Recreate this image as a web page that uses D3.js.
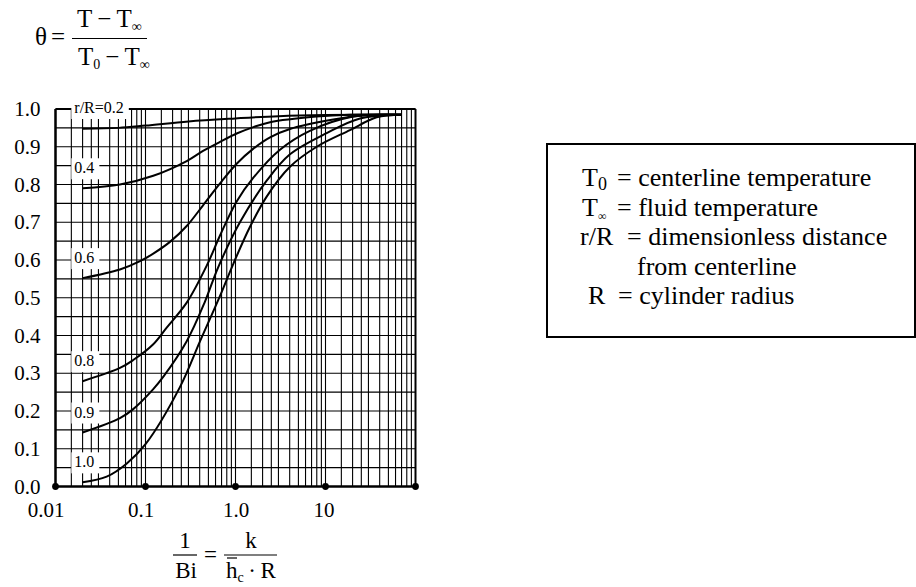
<!DOCTYPE html>
<html>
<head>
<meta charset="utf-8">
<script src="https://cdn.jsdelivr.net/npm/d3@7"></script>
<style>
  body { margin: 0; background: #fff; }
  svg { display: block; }
  text { font-family: "Liberation Serif", "Times New Roman", serif; fill: #000; }
  .grid line { stroke: #000; stroke-width: 1.1; }
  .frame { stroke: #000; }
  .curve { fill: none; stroke: #000; stroke-width: 2; }
  .lbl { font-size: 16px; }
</style>
</head>
<body>
<svg id="chart" width="916" height="587"></svg>
<script>
  // r/R label for each curve
  const radii = ['r/R=0.2', '0.4', '0.6', '0.8', '0.9', '1.0'];

  // [1/Bi, theta]
  const curve02 = [[0.02, 0.948], [0.05, 0.950], [0.1, 0.956], [0.3, 0.967], [1, 0.975],
    [3, 0.981], [10, 0.984], [70, 0.985]];
  const curve04 = [[0.02, 0.790], [0.052, 0.800], [0.122, 0.823], [0.287, 0.862], [0.436, 0.889],
    [0.673, 0.913], [1.03, 0.935], [1.58, 0.952], [2.42, 0.965], [7.9, 0.980], [18.7, 0.985],
    [70, 0.985]];
  const curve06 = [[0.02, 0.552], [0.052, 0.575], [0.087, 0.597], [0.122, 0.617], [0.187, 0.648],
    [0.287, 0.690], [0.436, 0.745], [0.673, 0.803], [1.03, 0.855], [1.58, 0.895], [2.42, 0.925],
    [4.03, 0.947], [12.2, 0.972], [28.7, 0.984], [70, 0.985]];
  const curve08 = [[0.02, 0.279], [0.052, 0.314], [0.073, 0.335], [0.122, 0.377], [0.172, 0.421],
    [0.287, 0.487], [0.479, 0.585], [0.673, 0.665], [1.03, 0.755], [1.58, 0.818], [3.12, 0.892],
    [6.7, 0.942], [18.7, 0.978], [70, 0.985]];
  const curve09 = [[0.02, 0.143], [0.052, 0.181], [0.073, 0.205], [0.122, 0.258], [0.158, 0.291],
    [0.287, 0.385], [0.458, 0.490], [0.64, 0.580], [1.12, 0.700], [2.22, 0.810], [4.03, 0.880],
    [10.3, 0.936], [24.2, 0.975], [70, 0.985]];
  const curve10 = [[0.02, 0.011], [0.037, 0.026], [0.062, 0.061], [0.1, 0.112], [0.242, 0.264],
    [0.404, 0.385], [0.673, 0.505], [0.946, 0.590], [1.45, 0.688], [2.22, 0.768], [4.03, 0.847],
    [8, 0.900], [18.7, 0.944], [37, 0.978], [70, 0.985]];
  const curves = [curve02, curve04, curve06, curve08, curve09, curve10];

  const yTicks = [0, 0.1, 0.2, 0.3, 0.4, 0.5, 0.6, 0.7, 0.8, 0.9, 1.0];
  const xTicks = [0.01, 0.1, 1, 10];
  const xTickLabels = ['0.01', '0.1', '1.0', '10'];
  const dotValues = [0.01, 0.1, 1, 10, 100];

  const legendSymbols = ['T', 'T', 'r/R', '', 'R'];
  const legendSubs = ['0', '\u221e', '', '', ''];
  const legendTexts = ['= centerline temperature', '= fluid temperature',
    '= dimensionless distance', 'from centerline', '= cylinder radius'];

  const svg = d3.select('#chart');

  const x = d3.scaleLog().domain([0.01, 100]).range([55.5, 415.5]);
  const y = d3.scaleLinear().domain([0, 1]).range([486.5, 109]);

  // graph paper: 1, 1.5, 2, 2.5, 3 ... 9 in every decade
  const mult = [1, 1.5, 2, 2.5, 3, 4, 5, 6, 7, 8, 9];
  const gridX = [];
  [0.01, 0.1, 1, 10].forEach(function(d) {
    mult.forEach(function(m) { gridX.push(d * m); });
  });
  const gridY = d3.range(0, 21).map(function(i) { return i * 0.05; });

  const grid = svg.append('g').attr('class', 'grid');
  grid.selectAll('line.gx').data(gridX).join('line')
    .attr('class', 'gx')
    .attr('x1', function(d) { return x(d); })
    .attr('x2', function(d) { return x(d); })
    .attr('y1', y(0))
    .attr('y2', y(1));
  grid.selectAll('line.gy').data(gridY).join('line')
    .attr('class', 'gy')
    .attr('x1', x(0.01))
    .attr('x2', x(100))
    .attr('y1', function(d) { return y(d); })
    .attr('y2', function(d) { return y(d); });

  // frame
  const frame = svg.append('g').attr('class', 'frame');
  frame.append('line').attr('x1', x(0.01)).attr('x2', x(0.01)).attr('y1', y(1)).attr('y2', y(0))
    .attr('stroke-width', 2.5);
  frame.append('line').attr('x1', x(0.01)).attr('x2', x(100)).attr('y1', y(0)).attr('y2', y(0))
    .attr('stroke-width', 2.5);
  frame.append('line').attr('x1', x(0.01)).attr('x2', x(100)).attr('y1', y(1)).attr('y2', y(1))
    .attr('stroke-width', 2);
  frame.append('line').attr('x1', x(100)).attr('x2', x(100)).attr('y1', y(1)).attr('y2', y(0))
    .attr('stroke-width', 2);

  // curve labels on white patches
  const labels = svg.append('g');
  radii.forEach(function(r, i) {
    const ly = i === 0 ? y(1) + 4 : y(curves[i][0][1]) - 15;
    const g = labels.append('g');
    const t = g.append('text')
      .attr('class', 'lbl')
      .attr('x', x(0.015) + 3)
      .attr('y', ly)
      .text(r);
    const b = t.node().getBBox();
    g.insert('rect', 'text')
      .attr('x', b.x - 3)
      .attr('y', b.y - 1)
      .attr('width', b.width + 8)
      .attr('height', b.height + 4)
      .attr('fill', '#fff');
  });

  const line = d3.line()
    .x(function(d) { return x(d[0]); })
    .y(function(d) { return y(d[1]); })
    .curve(d3.curveCatmullRom.alpha(0.5));

  svg.append('g').selectAll('path').data(curves).join('path')
    .attr('class', 'curve')
    .attr('d', line);

  // axes
  const yAxis = svg.append('g')
    .attr('transform', 'translate(' + x(0.01) + ',0)')
    .call(d3.axisLeft(y).tickValues(yTicks).tickFormat(d3.format('.1f')).tickSize(0).tickPadding(15));
  yAxis.select('.domain').remove();
  yAxis.attr('font-family', null).attr('font-size', 21);

  const xShift = { '0.01': -10, '0.1': -5, '1.0': 0, '10': -2 };
  const xAxis = svg.append('g')
    .attr('transform', 'translate(0,' + y(0) + ')')
    .call(d3.axisBottom(x).tickValues(xTicks)
      .tickFormat(function(d, i) { return xTickLabels[i]; })
      .tickSize(0).tickPadding(16));
  xAxis.select('.domain').remove();
  xAxis.attr('font-family', null).attr('font-size', 21);
  xAxis.selectAll('text')
    .attr('dx', function(d, i) { return xShift[xTickLabels[i]]; });

  svg.append('g').selectAll('circle').data(dotValues).join('circle')
    .attr('cx', function(d) { return x(d); })
    .attr('cy', y(0))
    .attr('r', 3.4)
    .attr('fill', '#000');

  // theta definition
  const thetaG = svg.append('g').attr('font-size', 25);
  thetaG.append('text').attr('x', 35).attr('y', 45).text('\u03b8');
  thetaG.append('text').attr('x', 51).attr('y', 45).text('=');
  thetaG.append('line').attr('x1', 72).attr('x2', 147).attr('y1', 38.5).attr('y2', 38.5)
    .attr('stroke', '#000').attr('stroke-width', 1.2);
  const num = thetaG.append('text').attr('x', 77).attr('y', 27);
  num.append('tspan').text('T\u2009\u2212\u2009T');
  num.append('tspan').attr('font-size', 14).attr('dy', 4).text('\u221e');
  const den = thetaG.append('text').attr('x', 78).attr('y', 65);
  den.append('tspan').text('T');
  den.append('tspan').attr('font-size', 14).attr('dy', 4).text('0');
  den.append('tspan').attr('dy', -4).text('\u2009\u2212\u2009T');
  den.append('tspan').attr('font-size', 14).attr('dy', 4).text('\u221e');

  // 1/Bi definition
  const biG = svg.append('g').attr('font-size', 23);
  biG.append('text').attr('x', 185).attr('y', 548).attr('text-anchor', 'middle').text('1');
  biG.append('line').attr('x1', 173).attr('x2', 197).attr('y1', 555).attr('y2', 555)
    .attr('stroke', '#000').attr('stroke-width', 1.2);
  biG.append('text').attr('x', 186).attr('y', 578).attr('text-anchor', 'middle').text('Bi');
  biG.append('text').attr('x', 204).attr('y', 562).text('=');
  biG.append('text').attr('x', 251).attr('y', 548).attr('text-anchor', 'middle').text('k');
  biG.append('line').attr('x1', 224).attr('x2', 277).attr('y1', 555).attr('y2', 555)
    .attr('stroke', '#000').attr('stroke-width', 1.2);
  const hc = biG.append('text').attr('x', 226).attr('y', 578);
  hc.append('tspan').text('h');
  hc.append('tspan').attr('font-size', 14).attr('dy', 4).text('c');
  hc.append('tspan').attr('dy', -4).text('\u2009\u00b7\u2009R');
  biG.append('line').attr('x1', 227).attr('x2', 237).attr('y1', 558).attr('y2', 558)
    .attr('stroke', '#000').attr('stroke-width', 1.2);

  // legend box
  const leg = svg.append('g').attr('font-size', 26);
  leg.append('rect').attr('x', 547).attr('y', 144).attr('width', 368).attr('height', 193)
    .attr('fill', 'none').attr('stroke', '#000').attr('stroke-width', 2);
  const symX = [582, 582, 580, 0, 588];
  const eqX = [617, 617, 627, 637, 618];
  legendTexts.forEach(function(txt, i) {
    const by = 186 + i * 29.5;
    if (legendSymbols[i]) {
      const s = leg.append('text').attr('x', symX[i]).attr('y', by);
      s.append('tspan').text(legendSymbols[i]);
      if (legendSubs[i]) {
        s.append('tspan')
          .attr('font-size', legendSubs[i] === '0' ? 18 : 12)
          .attr('dy', 4)
          .text(legendSubs[i]);
      }
    }
    leg.append('text').attr('x', eqX[i]).attr('y', by).text(txt);
  });
</script>
</body>
</html>
